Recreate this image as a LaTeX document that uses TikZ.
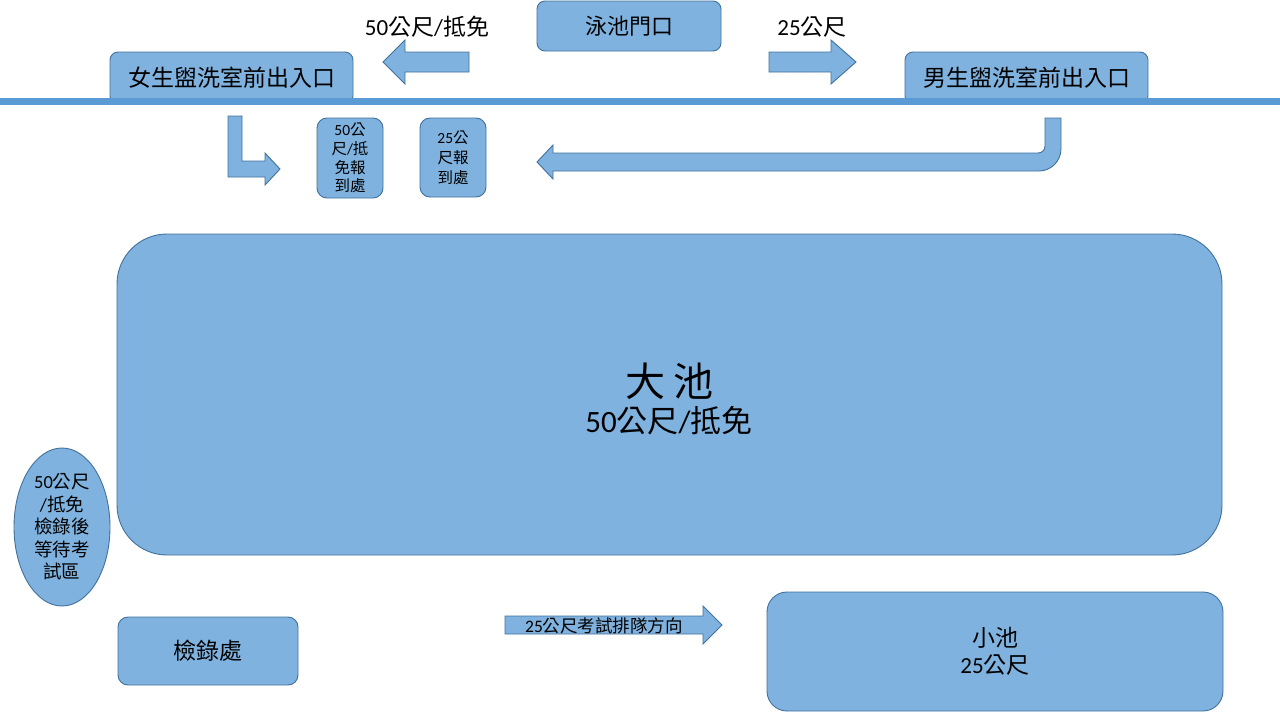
\documentclass[tikz,border=0pt]{standalone}
\usepackage{fontspec}
\setmainfont{Carlito}
\newfontfamily\zh{Noto Sans CJK TC}
\newcommand\en[1]{{\rmfamily #1}}
\usetikzlibrary{shapes.geometric}
\definecolor{poolblue}{RGB}{127,178,222}
\definecolor{edgeblue}{RGB}{65,113,156}
\definecolor{lineblue}{RGB}{91,155,213}
\tikzset{
  zone/.style={draw=edgeblue, fill=poolblue, line width=0.9pt, rounded corners=#1, inner sep=0pt, align=center},
  zone/.default=10pt,
  blockarrow/.style={draw=edgeblue, fill=poolblue, line width=0.9pt, line join=miter},
  cjk/.style 2 args={font=\zh\fontsize{#1}{#2}\selectfont, align=center}
}
\begin{document}
\begin{tikzpicture}[x=1pt, y=-1pt]
    \useasboundingbox (0,0) rectangle (1280,720);
    % entrances
    \node[zone=8pt, minimum width=184pt, minimum height=50pt, cjk={22}{26}] (gate) at (629,26) {泳池門口};
    \node[zone=8pt, minimum width=243pt, minimum height=52pt, cjk={23}{27}] (girlsgate) at (231.5,78) {女生盥洗室前出入口};
    \node[zone=8pt, minimum width=243pt, minimum height=52pt, cjk={23}{27}] (boysgate) at (1026.5,78) {男生盥洗室前出入口};
    \draw[line width=7pt, lineblue] (0,101.5) -- (1280,101.5);
    \node[cjk={23}{27}] (label50) at (427,27) {\en{50}公尺\en{/}抵免};
    \node[cjk={23}{27}] (label25) at (812,27) {\en{25}公尺};
    \filldraw[blockarrow] (469,52) -- (405,52) -- (405,40) -- (383,62) -- (405,84) -- (405,72) -- (469,72) -- cycle;
    \filldraw[blockarrow] (769,52) -- (831,52) -- (831,40) -- (856,62) -- (831,84) -- (831,72) -- (769,72) -- cycle;
    % check-in desks
    \node[zone, minimum width=66pt, minimum height=80pt, cjk={15.5}{18.7}] (reg50) at (350,158) {\en{50}公\\尺\en{/}抵\\免報\\到處};
    \node[zone, minimum width=66pt, minimum height=79pt, cjk={15.5}{20}] (reg25) at (453,157.5) {\en{25}公\\尺報\\到處};
    \filldraw[blockarrow] (228,116) -- (242,116) -- (242,161) -- (265,161) -- (265,153) -- (280,169) -- (265,185) -- (265,177) -- (228,177) -- cycle;
    \filldraw[blockarrow] (1045,118) -- (1061,118) -- (1061,149) .. controls (1061,161) and (1051,171) .. (1039,171) -- (553,171) -- (553,179) -- (537,162) -- (553,145) -- (553,153) -- (1038,153) .. controls (1042,153) and (1045,150) .. (1045,146) -- cycle;
    % pools
    \node[zone=50pt, minimum width=1105pt, minimum height=321pt] (bigpool) at (669.5,394.5) {};
    \node[cjk={40}{40}] (bigname) at (669,381) {大\hspace{8pt}池};
    \node[cjk={31}{36}] (biglen) at (669,421) {\en{50}公尺\en{/}抵免};
    \node[zone=20pt, minimum width=456pt, minimum height=119pt, cjk={23}{27}] (smallpool) at (995,651.5) {小池\\\en{25}公尺};
    % waiting and roll call
    \node[ellipse, draw=edgeblue, fill=poolblue, line width=0.9pt, inner sep=0pt, minimum width=96pt, minimum height=158pt, cjk={18.5}{22.5}] (waitarea) at (62,527) {\en{50}公尺\\\en{/}抵免\\檢錄後\\等待考\\試區};
    \node[zone, minimum width=180pt, minimum height=68pt, cjk={23}{27}] (checkin) at (208,651) {檢錄處};
    \filldraw[blockarrow] (505,616) -- (703,616) -- (703,606) -- (722,625) -- (703,644) -- (703,634) -- (505,634) -- cycle;
    \node[cjk={17.5}{20}] (queue) at (604,626) {\en{25}公尺考試排隊方向};
\end{tikzpicture}
\end{document}
